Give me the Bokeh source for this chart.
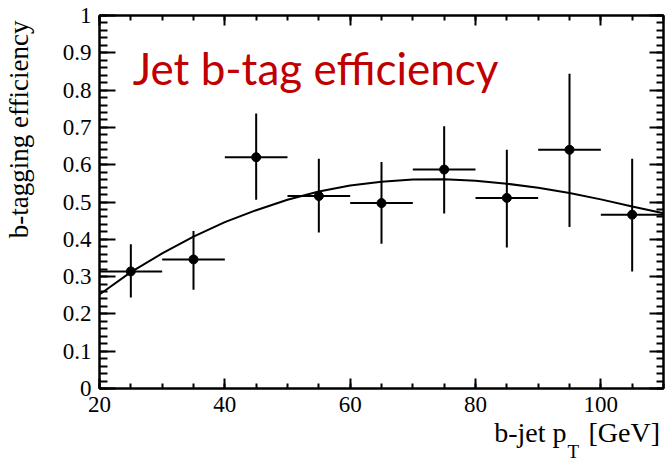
import math
from bokeh.plotting import figure
from bokeh.layouts import row, column
from bokeh.models import (Range1d, LinearAxis, SingleIntervalTicker, Label,
                          ColumnDataSource, CustomJSTickFormatter)
from bokeh.embed import file_html
from bokeh.resources import INLINE

# ---- data ----
pt = [25, 35, 45, 55, 65, 75, 85, 95, 105]
pt_halfwidth = [5, 5, 5, 5, 5, 5, 5, 5, 5]
eff = [0.314, 0.346, 0.620, 0.516, 0.497, 0.587, 0.511, 0.640, 0.466]
err_hi = [0.073, 0.076, 0.117, 0.100, 0.110, 0.116, 0.129, 0.204, 0.150]
err_lo = [0.070, 0.081, 0.114, 0.098, 0.109, 0.118, 0.133, 0.207, 0.152]

fit_x = [20, 25, 30, 35, 40, 45, 50, 55, 60, 65, 70, 75, 80, 85, 90, 95, 100, 105, 110]
fit_y = [0.252, 0.312, 0.362, 0.407, 0.446, 0.478, 0.506, 0.528, 0.544, 0.554,
         0.560, 0.561, 0.557, 0.549, 0.538, 0.524, 0.507, 0.488, 0.470]

title_text = "Jet b-tag efficiency"
y_label = "b-tagging efficiency"
x_label_main = "b-jet p"
x_label_sub = "T"
x_label_unit = "[GeV]"

serif = "Liberation Serif"
LW = 40                      # width of the y-title strip
MAIN_W, MAIN_H = 625, 422
XLAB_H = 460 - MAIN_H

xr = Range1d(20, 110)
p = figure(width=MAIN_W, height=MAIN_H, output_backend="svg", toolbar_location=None,
           x_range=xr, y_range=Range1d(0, 1),
           min_border_left=59, min_border_right=2, min_border_top=15,
           min_border_bottom=MAIN_H - 388, background_fill_color="white",
           border_fill_color="white")
p.grid.visible = False
p.outline_line_color = "black"
p.outline_line_width = 2


def style_axis(ax, major_in, minor_in, size=None):
    ax.axis_line_color = "black"
    ax.axis_line_width = 2
    ax.major_tick_line_width = 2
    ax.minor_tick_line_width = 2
    ax.major_tick_out = 0
    ax.minor_tick_out = 0
    ax.major_tick_in = major_in
    ax.minor_tick_in = minor_in
    if size is None:
        ax.formatter = CustomJSTickFormatter(code="return '';")
        ax.major_label_standoff = 0
    else:
        ax.major_label_text_font = serif
        ax.major_label_text_font_size = size
        ax.major_label_text_color = "black"


xa = p.xaxis[0]
xa.ticker = SingleIntervalTicker(interval=20, num_minor_ticks=4)
style_axis(xa, 10, 5, "23px")
xa.major_label_standoff = 8

ya = p.yaxis[0]
ya.ticker = SingleIntervalTicker(interval=0.1, num_minor_ticks=5)
style_axis(ya, 16, 8, "23px")
ya.major_label_standoff = 8
ya.major_label_overrides = {0: "0", 1: "1"}

top = LinearAxis(ticker=SingleIntervalTicker(interval=20, num_minor_ticks=4))
style_axis(top, 10, 5)
p.add_layout(top, "above")
right = LinearAxis(ticker=SingleIntervalTicker(interval=0.1, num_minor_ticks=5))
style_axis(right, 14, 7)
p.add_layout(right, "right")

# fit curve
p.line(fit_x, fit_y, line_color="black", line_width=2)

# error bars and points
src = ColumnDataSource(dict(
    x=pt, y=eff,
    x0=[a - b for a, b in zip(pt, pt_halfwidth)],
    x1=[a + b for a, b in zip(pt, pt_halfwidth)],
    y0=[a - b for a, b in zip(eff, err_lo)],
    y1=[a + b for a, b in zip(eff, err_hi)],
))
p.segment(x0="x0", y0="y", x1="x1", y1="y", source=src, line_color="black", line_width=2)
p.segment(x0="x", y0="y0", x1="x", y1="y1", source=src, line_color="black", line_width=2)
p.scatter(x="x", y="y", source=src, size=9, fill_color="black", line_color="black")

# title inside plot
p.add_layout(Label(x=25.3, y=0.858, text=title_text, text_font="Lato",
                   text_font_size="44px", text_color="#C00000",
                   text_baseline="middle", text_align="left"))

# ---- strip holding the y-axis title (pixel coordinates, y up) ----
ylab = figure(width=LW, height=460, output_backend="svg",
              toolbar_location=None, x_range=Range1d(0, LW),
              y_range=Range1d(0, 460), min_border=0,
              x_axis_type=None, y_axis_type=None, outline_line_color=None)
ylab.grid.visible = False
ylab.add_layout(Label(x=18, y=440, text=y_label, angle=math.pi / 2,
                      text_font=serif, text_font_size="27px",
                      text_align="right", text_baseline="middle",
                      text_color="black"))

# ---- strip under the plot holding the x-axis title (shares the pT scale) ----
xlab = figure(width=MAIN_W, height=XLAB_H, output_backend="svg",
              toolbar_location=None, x_range=xr,
              y_range=Range1d(0, XLAB_H), min_border=0,
              x_axis_type=None, y_axis_type=None, outline_line_color=None)
xlab.grid.visible = False
xlab.add_layout(Label(x=94.52, y=28.5, text=x_label_main, text_font=serif,
                      text_font_size="28px", text_align="right",
                      text_baseline="middle", text_color="black"))
xlab.add_layout(Label(x=94.68, y=9.4, text=x_label_sub, text_font=serif,
                      text_font_size="19px", text_align="left",
                      text_baseline="middle", text_color="black"))
xlab.add_layout(Label(x=98.03, y=28.5, text=x_label_unit, text_font=serif,
                      text_font_size="28px", text_align="left",
                      text_baseline="middle", text_color="black"))

layout = row(ylab, column(p, xlab, spacing=0), spacing=0)

open("out.html", "w").write(file_html(layout, INLINE))
